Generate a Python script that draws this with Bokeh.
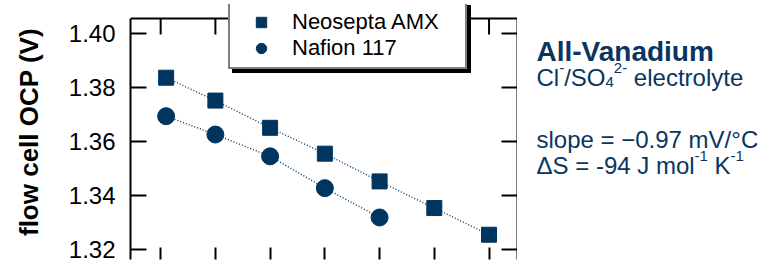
from bokeh.plotting import figure
from bokeh.layouts import row
from bokeh.models import (Range1d, LinearAxis, FixedTicker, Legend, LegendItem,
                          Label)
from bokeh.embed import file_html
from bokeh.resources import INLINE

# ---- data ----
amx_temp = [11, 20, 30, 40, 50, 60, 70]
amx_ocp = [1.3837, 1.3752, 1.3651, 1.3555, 1.3452, 1.3353, 1.3254]
naf_temp = [11, 20, 30, 40, 50]
naf_ocp = [1.3694, 1.3626, 1.3545, 1.3427, 1.3318]
x_ticks = [10, 20, 30, 40, 50, 60, 70]
y_ticks = [1.32, 1.34, 1.36, 1.38, 1.40]
y_tick_labels = ["1.32", "1.34", "1.36", "1.38", "1.40"]
series_names = ["Neosepta AMX", "Nafion 117"]
y_label = "flow cell OCP (V)"

NAVY = "#00355f"
TXT = "#0a3560"
FONT = "Liberation Sans"

# layout constants (pixels / axis limits)
FRAME_TOP = 4           # frame starts here so the legend may sit above the top axis
FRAME_BOTTOM = 259
X_MIN, X_MAX = 4.49, 75.2
Y_MIN, Y_AXIS_TOP, Y_MAX = 1.3162, 1.40568, 1.41088
PX_PER_UNIT = (FRAME_BOTTOM - FRAME_TOP) / (Y_MAX - Y_MIN)
TICK_LEN = 16

p = figure(width=517, height=260, output_backend="svg", toolbar_location=None,
           title=None,
           x_range=Range1d(X_MIN, X_MAX), y_range=Range1d(Y_MIN, Y_MAX),
           x_axis_location=None, y_axis_location=None,
           min_border_left=130, min_border_right=0, min_border_top=FRAME_TOP,
           min_border_bottom=0)
p.outline_line_color = None
p.grid.visible = False
p.background_fill_color = "white"
p.border_fill_color = "white"


def style_axis(ax, ticks, labels=None, tick_in=TICK_LEN):
    ax.axis_line_width = 2
    ax.axis_line_color = "black"
    ax.major_tick_line_width = 2
    ax.major_tick_line_color = "black"
    ax.major_tick_in = tick_in
    ax.major_tick_out = 0
    ax.minor_tick_line_color = None
    if labels is None:
        ax.major_label_overrides = {t: "" for t in ticks}
        ax.major_label_text_font_size = "1px"
        ax.major_label_standoff = 0
    else:
        ax.major_label_overrides = dict(zip(ticks, labels))


left = LinearAxis(ticker=FixedTicker(ticks=y_ticks), bounds=(Y_MIN, Y_AXIS_TOP))
style_axis(left, y_ticks, y_tick_labels)
left.major_label_text_font = FONT
left.major_label_text_font_size = "24px"
left.major_label_text_color = "black"
left.major_label_standoff = 15
left.axis_label = y_label
left.axis_label_text_font = FONT
left.axis_label_text_font_style = "bold"
left.axis_label_text_font_size = "26px"
left.axis_label_text_color = "black"
left.axis_label_standoff = 22
p.add_layout(left, "left")

right = LinearAxis(ticker=FixedTicker(ticks=y_ticks), bounds=(Y_MIN, Y_AXIS_TOP))
style_axis(right, y_ticks)
p.add_layout(right, "right")

bottom = LinearAxis(ticker=FixedTicker(ticks=x_ticks))
style_axis(bottom, x_ticks, tick_in=12)
bottom.axis_line_color = None
p.add_layout(bottom, "below")

# top axis line and inward ticks (frame extends above it for the legend)
p.segment(x0=[X_MIN], x1=[X_MAX], y0=[Y_AXIS_TOP], y1=[Y_AXIS_TOP],
          line_color="black", line_width=2)
p.segment(x0=x_ticks, x1=x_ticks, y0=[Y_AXIS_TOP] * len(x_ticks),
          y1=[Y_AXIS_TOP - TICK_LEN / PX_PER_UNIT] * len(x_ticks),
          line_color="black", line_width=2)

# dotted lines through the points
p.line(amx_temp, amx_ocp, line_color=NAVY, line_width=1.4, line_dash="1 2")
p.line(naf_temp, naf_ocp, line_color=NAVY, line_width=1.4, line_dash="1 2")
r_amx = p.scatter(amx_temp, amx_ocp, marker="square", size=15,
                  fill_color=NAVY, line_color=NAVY)
r_naf = p.scatter(naf_temp, naf_ocp, marker="circle", size=17,
                  fill_color=NAVY, line_color=NAVY)


def make_legend(loc, shadow=False):
    items = [LegendItem(label=series_names[0], renderers=[r_amx]),
             LegendItem(label=series_names[1], renderers=[r_naf])]
    return Legend(items=items, location=loc, padding=6, spacing=0,
                  glyph_width=50, glyph_height=26, label_standoff=6,
                  label_width=167, label_height=20, label_text_font=FONT,
                  label_text_font_size="22px", label_text_color="black",
                  label_text_alpha=0.0 if shadow else 1.0,
                  border_line_color="black", border_line_width=2,
                  background_fill_color="black" if shadow else "white",
                  background_fill_alpha=1.0, margin=0)


p.add_layout(make_legend((102, 186), shadow=True), "center")
p.add_layout(make_legend((98, 190)), "center")

# ---- right-hand annotation panel ----
PANEL_LEFT = 517
q = figure(width=762 - PANEL_LEFT, height=260, output_backend="svg",
           toolbar_location=None, title=None,
           x_range=Range1d(0, 762 - PANEL_LEFT),
           y_range=Range1d(0, FRAME_BOTTOM - FRAME_TOP),
           x_axis_location=None, y_axis_location=None,
           min_border_left=0, min_border_right=0,
           min_border_top=FRAME_TOP, min_border_bottom=260 - FRAME_BOTTOM)
q.outline_line_color = None
q.grid.visible = False

ADV = {'C': 722, 'l': 222, '/': 278, 'S': 667, 'O': 778, ' ': 278, 'e': 556,
       'c': 500, 't': 278, 'r': 333, 'o': 556, 'y': 500, 'Δ': 668, '=': 584,
       '-': 333, '9': 556, '4': 556, 'J': 500, 'm': 833, 'K': 667, '1': 556,
       '2': 556}


def width(s, size):
    return sum(ADV.get(ch, 556) for ch in s) * size / 1000.0


def put(text, px, py, size, bold=False):
    q.add_layout(Label(x=px - PANEL_LEFT, y=FRAME_BOTTOM - py, text=text,
                       text_font=FONT, text_font_size=f"{size}px",
                       text_font_style="bold" if bold else "normal",
                       text_color=TXT, text_baseline="alphabetic",
                       text_align="left"))


def put_rich(pieces, px, py, size):
    small = round(size * 0.62)
    x = px
    for text, kind in pieces:
        lead = len(text) - len(text.lstrip(" "))
        body = text.lstrip(" ")
        if kind == "main":
            x += width(" " * lead, size)
            put(body, x, py, size)
            x += width(body, size)
        elif kind == "sup":
            put(body, x, py - size * 0.40, small)
            x += width(body, small)
        else:
            put(body, x, py + size * 0.18, small)
            x += width(body, small)


TX = 536
put("All-Vanadium", TX, 51, 28, bold=True)
put_rich([("Cl", "main"), ("-", "sup"), ("/SO", "main"), ("4", "sub"),
          ("2-", "sup"), (" electrolyte", "main")], TX, 77, 24)
put("slope = \u22120.97 mV/\u00b0C", TX, 139, 24)
put_rich([("ΔS = -94 J mol", "main"), ("-1", "sup"), (" K", "main"),
          ("-1", "sup")], TX, 165, 24)

layout = row(p, q)
open("out.html", "w").write(file_html(layout, INLINE))
